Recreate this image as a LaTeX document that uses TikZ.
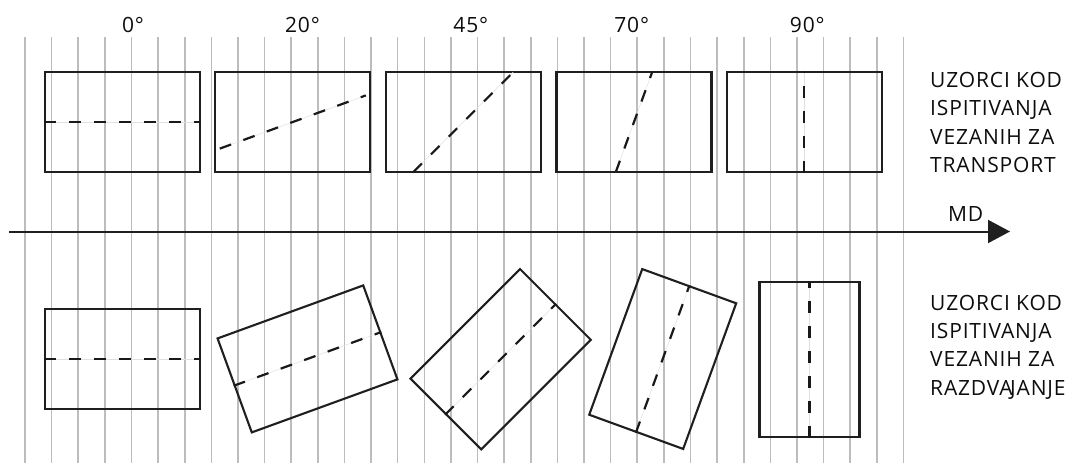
\documentclass[tikz,border=0pt]{standalone}
\usepackage{fontspec}
\setmainfont{Open Sans}
\newfontfamily\sidefont[LetterSpace=4]{Open Sans}
\usetikzlibrary{arrows.meta}
\begin{document}
\begin{tikzpicture}[x=1pt,y=-1pt,
  gridline/.style={line width=1.6pt,draw=black!26},
  specimen/.style={draw=black!88,line width=2.1pt,rectangle,inner sep=0pt,minimum width=155pt,minimum height=100pt},
  faint/.style={draw=black!12,line width=0.5pt},
  cut/.style={draw=black!90,line width=2.2pt,dash pattern=on 12pt off 13pt},
  lbl/.style={font=\sidefont\fontsize{21}{25}\selectfont,text=black!95,inner sep=0pt},
  side/.style={lbl,anchor=base west},
  mdarrow/.style={line width=2pt,draw=black!88,-{Triangle[length=22pt,width=23pt]}}]
\useasboundingbox (0,0) rectangle (1067,463);
% grid
\foreach \i in {0,...,33}{
  \draw[gridline] ({25+\i*26.62},37) -- ({25+\i*26.62},463);
}
% angle labels
\node[lbl,anchor=base] (l0) at (133,32.7) {0°};
\node[lbl,anchor=base] (l20) at (302.5,32.7) {20°};
\node[lbl,anchor=base] (l45) at (470.8,32.7) {45°};
\node[lbl,anchor=base] (l70) at (631.7,32.7) {70°};
\node[lbl,anchor=base] (l90) at (807.3,32.7) {90°};
% top specimens
\node[specimen] (t1) at (122.7,122) {};
\node[specimen] (t2) at (292.8,122) {};
\node[specimen] (t3) at (463.3,122) {};
\node[specimen] (t4) at (634,122) {};
\node[specimen] (t5) at (804.3,122) {};
\coordinate (t2a) at (219.8,148.6); \coordinate (t2b) at (365.8,95.4);
\coordinate (t3a) at (413.3,172); \coordinate (t3b) at (513.3,72);
\coordinate (t4a) at (615.8,172); \coordinate (t4b) at (652.2,72);
\draw[faint] (t1.west) -- (t1.east);
\draw[faint] (t2a) -- (t2b);
\draw[faint] (t3a) -- (t3b);
\draw[faint] (t4a) -- (t4b);
\draw[faint] (t5.south) -- (t5.north);
\draw[cut] (t1.west) -- (t1.east);
\draw[cut] (t2a) -- (t2b);
\draw[cut] (t3a) -- (t3b);
\draw[cut] (t4a) -- (t4b);
\draw[cut] (t5.south) -- (t5.north);
% top text
\node[side] (ta) at (930,87.3) {UZORCI KOD};
\node[side] (tb) at (930,115.7) {ISPITIVANJA};
\node[side] (tc) at (930,144) {VEZANIH ZA};
\node[side] (td) at (930,172.3) {TRANSPORT};
% MD arrow
\coordinate (as) at (9,231.5);
\coordinate (ae) at (1010,231.5);
\draw[mdarrow] (as) -- (ae);
\node[lbl,anchor=base] (md) at (965.7,221.7) {MD};
% bottom specimens
\node[specimen] (b1) at (122.7,359.2) {};
\node[specimen,rotate=20] (b2) at (307.5,358.9) {};
\node[specimen,rotate=45] (b3) at (500.6,359.2) {};
\node[specimen,rotate=70] (b4) at (662.7,359) {};
\node[specimen,rotate=90] (b5) at (809.5,359.2) {};
\foreach \b in {b1,b2,b3,b4,b5}{
  \draw[faint] (\b.west) -- (\b.east);
  \draw[cut] (\b.west) -- (\b.east);
}
% bottom text
\node[side] (ba) at (930,310) {UZORCI KOD};
\node[side] (bb) at (930,338.3) {ISPITIVANJA};
\node[side] (bc) at (930,366.7) {VEZANIH ZA};
\node[side] (bd) at (930,395) {RAZDVA\kern-2.5pt JANJE};
\end{tikzpicture}
\end{document}
